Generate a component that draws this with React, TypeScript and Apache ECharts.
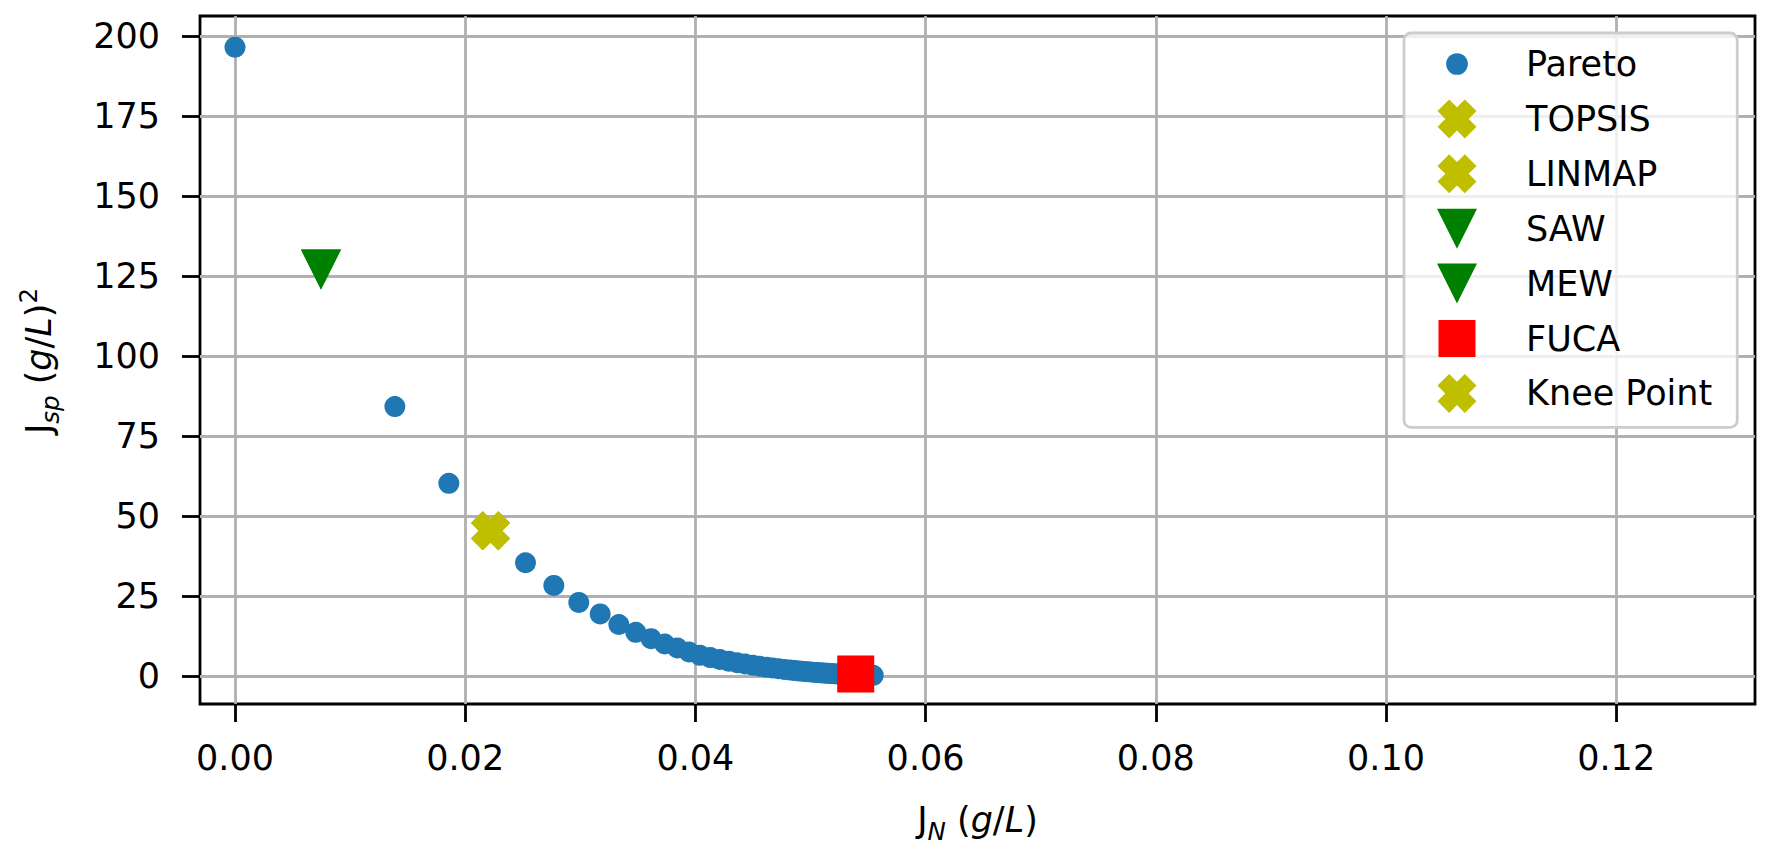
import React, { useEffect, useRef } from "react";
import * as echarts from "echarts";

// ---- data ----
const paretoX = [0, 0.01389, 0.01858, 0.0222, 0.02524, 0.0277, 0.02987, 0.03173, 0.03335, 0.03482, 0.03615, 0.03734, 0.03844, 0.03945, 0.0404, 0.0413, 0.04213, 0.0429, 0.04363, 0.04432, 0.04497, 0.04558, 0.04616, 0.0467, 0.04722, 0.04771, 0.04818, 0.04862, 0.04904, 0.04944, 0.04982, 0.05018, 0.05052, 0.05085, 0.05116, 0.05146, 0.05175, 0.05203, 0.0523, 0.05256, 0.05281, 0.05306, 0.0533, 0.05354, 0.05378, 0.05402, 0.05426, 0.0545, 0.05475, 0.055, 0.05528, 0.05545];
const paretoY = [196.5, 84.2, 60.2, 45.4, 35.4, 28.3, 23.0, 19.4, 16.1, 13.65, 11.66, 10.0, 8.75, 7.5, 6.45, 5.75, 5.15, 4.62, 4.15, 3.74, 3.37, 3.05, 2.76, 2.5, 2.27, 2.06, 1.87, 1.7, 1.55, 1.41, 1.29, 1.18, 1.08, 0.99, 0.91, 0.84, 0.77, 0.71, 0.66, 0.61, 0.56, 0.52, 0.48, 0.44, 0.41, 0.38, 0.35, 0.32, 0.29, 0.26, 0.23, 0.2];

const methodNames = ["TOPSIS", "LINMAP", "SAW", "MEW", "FUCA", "Knee Point"];
const methodX = [0.0222, 0.0222, 0.00747, 0.00747, 0.05393, 0.0222];
const methodY = [45.4, 45.4, 127, 127, 0.6, 45.4];

const xTicks = [0, 0.02, 0.04, 0.06, 0.08, 0.1, 0.12];
const yTicks = [0, 25, 50, 75, 100, 125, 150, 175, 200];

// ---- styles ----
const FONT = "DejaVu Sans";
const C_PARETO = "#1f77b4";
const C_Y = "#bfbf00";
const C_G = "#008000";
const C_R = "#ff0000";

const X_PATH = "path://M18 0L30 12L42 0L60 18L48 30L60 42L42 60L30 48L18 60L0 42L12 30L0 18Z";
const TRI_PATH = "path://M0 0L2 0L1 2Z";

// legend icons drawn in an 84x40 box, symbol centred at (20,20)
const BOX = "M0 0M84 40";
const LEG_CIRCLE = `path://${BOX}M9.15 20A10.85 10.85 0 1 0 30.85 20A10.85 10.85 0 1 0 9.15 20Z`;
const LEG_X = `path://${BOX}M12.2 0.5L20 8.3L27.8 0.5L39.5 12.2L31.7 20L39.5 27.8L27.8 39.5L20 31.7L12.2 39.5L0.5 27.8L8.3 20L0.5 12.2Z`;
const LEG_TRI = `path://${BOX}M0 0L40 0L20 40Z`;
const LEG_SQ = `path://${BOX}M1.5 1.5L38.5 1.5L38.5 38.5L1.5 38.5Z`;

const methodSymbols = [X_PATH, X_PATH, TRI_PATH, TRI_PATH, "rect", X_PATH];
const methodSizes = [39, 39, 40, 40, 37, 39];
const methodColors = [C_Y, C_Y, C_G, C_G, C_R, C_Y];
const methodLegendIcons = [LEG_X, LEG_X, LEG_TRI, LEG_TRI, LEG_SQ, LEG_X];

type Part = { t: string; it?: boolean; k?: "n" | "sub" | "sup" };

function mathLabel(parts: Part[], size: number, cx: number, cy: number, rotation: number) {
  const canvas = document.createElement("canvas");
  const ctx = canvas.getContext("2d")!;
  const small = size * 0.7;
  const items = parts.map((p) => {
    const fs = p.k === "sub" || p.k === "sup" ? small : size;
    ctx.font = `${p.it ? "italic " : ""}${fs}px "${FONT}"`;
    return { ...p, fs, w: ctx.measureText(p.t).width };
  });
  const total = items.reduce((s, i) => s + i.w, 0);
  let x = -total / 2;
  const children: any[] = [];
  for (const it of items) {
    let base = 0;
    if (it.k === "sub") base = 0.22 * size;
    if (it.k === "sup") base = -0.4 * size;
    const y = base - 0.33 * it.fs;
    children.push({
      type: "text",
      x,
      y,
      style: {
        text: it.t,
        fontFamily: FONT,
        fontSize: it.fs,
        fontStyle: it.it ? "italic" : "normal",
        fill: "#000",
        align: "left",
        verticalAlign: "middle",
      },
    });
    x += it.w;
  }
  return { type: "group", x: cx, y: cy, rotation, children, silent: true };
}

export default function App() {
  const ref = useRef<HTMLDivElement>(null);
  useEffect(() => {
    document.body.style.margin = "0";
    const chart = echarts.init(ref.current!, null, { renderer: "svg" });

    const series: any[] = [
      {
        name: "Pareto",
        type: "scatter",
        data: paretoX.map((x, i) => [x, paretoY[i]]),
        symbol: "circle",
        symbolSize: 21,
        itemStyle: { color: C_PARETO, opacity: 1 },
        clip: false,
        silent: true,
        z: 3,
      },
      ...methodNames.map((n, i) => ({
        name: n,
        type: "scatter",
        data: [[methodX[i], methodY[i]]],
        symbol: methodSymbols[i],
        symbolSize: methodSizes[i],
        itemStyle: { color: methodColors[i], opacity: 1 },
        clip: false,
        silent: true,
        z: 4 + i,
      })),
    ];

    const xLabel = mathLabel(
      [
        { t: "J" },
        { t: "N", it: true, k: "sub" },
        { t: " " },
        { t: "(" },
        { t: "g", it: true },
        { t: "/" },
        { t: "L", it: true },
        { t: ")" },
      ],
      35,
      977.5,
      832,
      0
    );
    const yLabel = mathLabel(
      [
        { t: "J" },
        { t: "sp", it: true, k: "sub" },
        { t: " " },
        { t: "(" },
        { t: "g", it: true },
        { t: "/" },
        { t: "L", it: true },
        { t: ")" },
        { t: "2", k: "sup" },
      ],
      35,
      50.5,
      361,
      Math.PI / 2
    );

    chart.setOption({
      animation: false,
      textStyle: { fontFamily: FONT },
      grid: {
        left: 200,
        right: 22,
        top: 16,
        bottom: 153,
        show: true,
        borderColor: "#000",
        borderWidth: 2.8,
        backgroundColor: "transparent",
        containLabel: false,
      },
      xAxis: {
        type: "value",
        position: "bottom",
        min: -0.00304,
        max: 0.13206,
        axisLine: { show: false, onZero: false },
        axisTick: {
          show: true,
          customValues: xTicks,
          length: 18,
          lineStyle: { color: "#000", width: 2.8 },
        },
        axisLabel: {
          customValues: xTicks,
          formatter: (v: number) => v.toFixed(2),
          fontSize: 35,
          fontFamily: FONT,
          color: "#000",
          margin: 36,
        },
        splitLine: { show: true, lineStyle: { color: "#b0b0b0", width: 2.8 } },
      },
      yAxis: {
        type: "value",
        position: "left",
        min: -8.75,
        max: 206.25,
        axisLine: { show: false, onZero: false },
        axisTick: {
          show: true,
          customValues: yTicks,
          length: 18,
          lineStyle: { color: "#000", width: 2.8 },
        },
        axisLabel: {
          customValues: yTicks,
          formatter: (v: number) => String(v),
          fontSize: 35,
          fontFamily: FONT,
          color: "#000",
          margin: 40,
        },
        splitLine: { show: true, lineStyle: { color: "#b0b0b0", width: 2.8 } },
      },
      legend: {
        orient: "vertical",
        left: 1404,
        top: 33,
        itemWidth: 84,
        itemHeight: 40,
        itemGap: 14.9,
        padding: [11, 25, 14, 33],
        backgroundColor: "rgba(255,255,255,0.8)",
        borderColor: "#cccccc",
        borderWidth: 2.8,
        borderRadius: 7,
        selectedMode: false,
        symbolKeepAspect: false,
        textStyle: { fontSize: 35, fontFamily: FONT, color: "#000" },
        data: [
          { name: "Pareto", icon: LEG_CIRCLE },
          ...methodNames.map((n, i) => ({ name: n, icon: methodLegendIcons[i] })),
        ],
      },
      graphic: [xLabel, yLabel],
      series,
    });
    return () => chart.dispose();
  }, []);
  return <div ref={ref} style={{ width: 1777, height: 857 }} />;
}
